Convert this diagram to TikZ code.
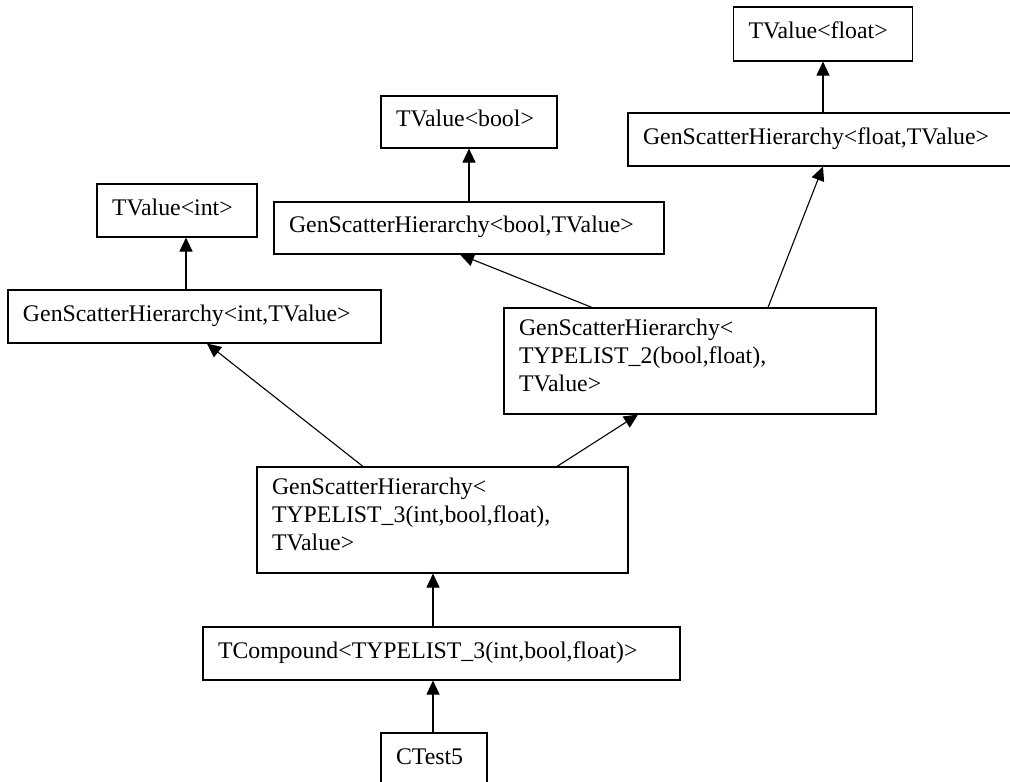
\documentclass[tikz,border=0pt]{standalone}
\usepackage{fontspec}
\setmainfont{Liberation Serif}
\usetikzlibrary{arrows.meta,calc}
\tikzset{
  cls/.style={draw, rectangle, line width=1.1pt, inner xsep=15pt, inner ysep=0pt,
    align=left, font=\fontsize{23.8pt}{28pt}\selectfont,
    text height=16pt, text depth=6.6pt},
  cls3/.style={cls, text height=16pt, text depth=68pt},
  arr/.style={line width=1.1pt, -{Triangle[length=14pt,width=13pt]}}
}
\begin{document}
\begin{tikzpicture}[x=1pt,y=-1pt]
\useasboundingbox (0,0) rectangle (1010,782);
\node[cls, minimum width=179pt, text width=149pt, minimum height=54pt] (tvf) at (823,34) {TValue<float>};
\node[cls, minimum width=386pt, text width=356pt, minimum height=53pt] (gsf) at (821,139.5) {GenScatterHierarchy<float,TValue>};
\node[cls, minimum width=176pt, text width=146pt, minimum height=52pt] (tvb) at (469,122) {TValue<bool>};
\node[cls, minimum width=390pt, text width=360pt, minimum height=52pt] (gsb) at (469,228) {GenScatterHierarchy<bool,TValue>};
\node[cls, minimum width=160pt, text width=130pt, minimum height=53pt] (tvi) at (177,210.5) {TValue<int>};
\node[cls, minimum width=373pt, text width=343pt, minimum height=53pt] (gsi) at (194.5,316.5) {GenScatterHierarchy<int,TValue>};
\node[cls3, minimum width=372pt, text width=342pt, minimum height=106pt] (tl2) at (690,361) {GenScatterHierarchy<\\TYPELIST\_2(bool,float),\\TValue>};
\node[cls3, minimum width=371pt, text width=341pt, minimum height=106pt] (tl3) at (442.5,520) {GenScatterHierarchy<\\TYPELIST\_3(int,bool,float),\\TValue>};
\node[cls, minimum width=477pt, text width=447pt, minimum height=53pt] (tc) at (441.5,653.5) {TCompound<TYPELIST\_3(int,bool,float)>};
\node[cls, minimum width=106pt, text width=76pt, minimum height=53pt] (ct) at (434,759.5) {CTest5};

\draw[arr] ($(gsf.north)+(2,0)$) -- (tvf.south);
\draw[arr] (gsb.north) -- (tvb.south);
\draw[arr] ($(gsi.north)+(-8.5,0)$) -- ($(tvi.south)+(9,0)$);
\draw[arr] ($(tl2.north)+(-98,0)$) -- ($(gsb.south)+(-9,0)$);
\draw[arr] ($(tl2.north)+(78,0)$) -- ($(gsf.south)+(2,0)$);
\draw[arr] ($(tl3.north)+(-79.5,0)$) -- ($(gsi.south)+(12.5,0)$);
\draw[arr] ($(tl3.north)+(114.5,0)$) -- ($(tl2.south)+(-52,0)$);
\draw[arr] ($(tc.north)+(-8.5,0)$) -- ($(tl3.south)+(-9.5,0)$);
\draw[arr] ($(ct.north)+(-1,0)$) -- ($(tc.south)+(-8.5,0)$);
\end{tikzpicture}
\end{document}
